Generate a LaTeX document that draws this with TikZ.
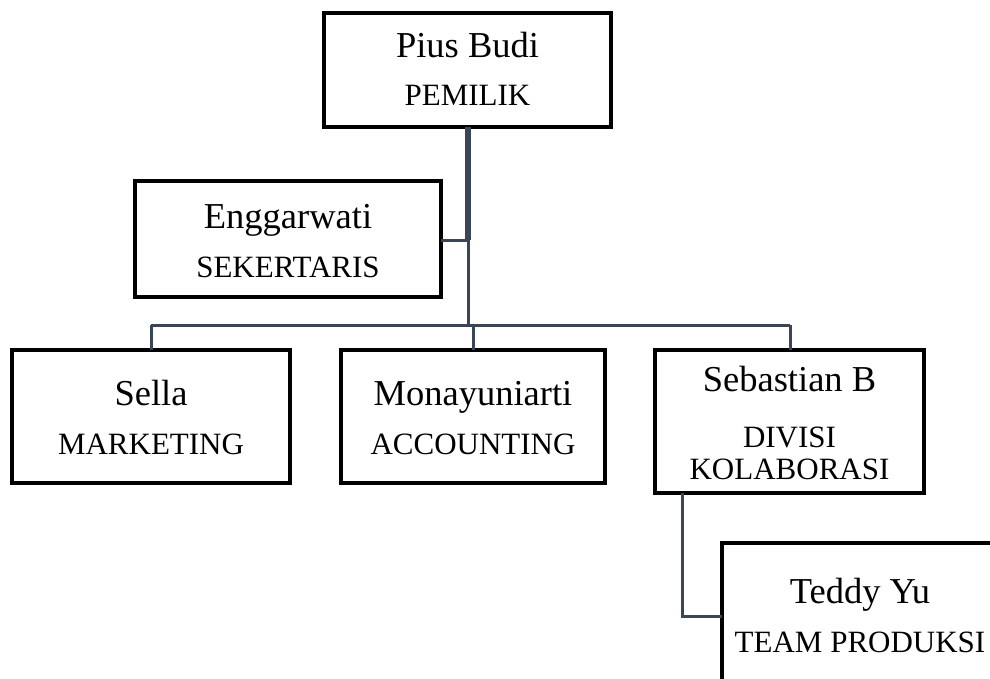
\documentclass[tikz,border=0pt]{standalone}
\usepackage{fontspec}
\setmainfont{Liberation Serif}
\definecolor{conn}{HTML}{3A4556}
\begin{document}
\begin{tikzpicture}[x=1pt,y=-1pt,
  orgbox/.style={draw=black,line width=3.2pt,fill=white,inner sep=0pt,outer sep=0pt},
  namet/.style={anchor=base,inner sep=0pt,font=\fontsize{36.5}{40}\selectfont},
  rolet/.style={anchor=base,inner sep=0pt,font=\fontsize{31}{34}\selectfont},
  link/.style={draw=conn,line width=3pt},
  trunk/.style={draw=conn,line width=5.5pt}]
\useasboundingbox (0,0) rectangle (990,679);
\fill[white] (0,0) rectangle (990,679);
\clip (0,0) rectangle (990,679);

% junction points
\coordinate (jE) at (468,240);
\coordinate (jbar) at (468,325);
\coordinate (jL) at (151,325);
\coordinate (jM) at (473,325);
\coordinate (jR) at (790,325);
\coordinate (jT) at (682,616);

% boxes
\node[orgbox,minimum width=287pt,minimum height=114pt] (pius) at (467.5,70) {};
\node[orgbox,minimum width=306pt,minimum height=116pt] (engg) at (288,239) {};
\node[orgbox,minimum width=278pt,minimum height=133pt] (sella) at (151,416.5) {};
\node[orgbox,minimum width=264pt,minimum height=133pt] (mona) at (473,416.5) {};
\node[orgbox,minimum width=269pt,minimum height=143pt] (seb) at (789.5,421.5) {};
\node[orgbox,minimum width=276pt,minimum height=147pt] (teddy) at (860,616.5) {};

% connectors
\draw[trunk] (pius.south -| jE) -- (jE);
\draw[link] (jE) -- (jbar);
\draw[link] (engg.east |- jE) -- (jE);
\draw[link] (jL) -- (jR);
\draw[link] (jL) -- (sella.north -| jL);
\draw[link] (jM) -- (mona.north -| jM);
\draw[link] (jR) -- (seb.north -| jR);
\draw[link] (seb.south -| jT) -- (jT) -- (teddy.west |- jT);

% texts
\node[namet] (piusN) at (467.5,58) {Pius Budi};
\node[rolet] (piusR) at (467.5,106) {PEMILIK};
\node[namet] (enggN) at (288,228) {Enggarwati};
\node[rolet] (enggR) at (288,277) {SEKERTARIS};
\node[namet] (sellaN) at (151,405) {Sella};
\node[rolet] (sellaR) at (151,454) {MARKETING};
\node[namet] (monaN) at (473,405) {Monayuniarti};
\node[rolet] (monaR) at (473,454) {ACCOUNTING};
\node[namet] (sebN) at (789.5,391) {Sebastian B};
\node[rolet] (sebR1) at (789.5,447) {DIVISI};
\node[rolet] (sebR2) at (789.5,479) {KOLABORASI};
\node[namet] (teddyN) at (860,603) {Teddy Yu};
\node[rolet] (teddyR) at (860,652) {TEAM PRODUKSI};
\end{tikzpicture}
\end{document}
